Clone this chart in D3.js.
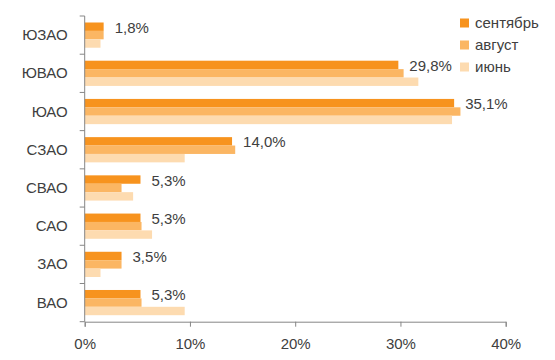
<!DOCTYPE html>
<html><head><meta charset="utf-8">
<script src="https://cdn.jsdelivr.net/npm/d3@7"></script>
<style>body{margin:0;background:#fff}svg{display:block}text{font-family:"Liberation Sans",Arial,sans-serif;fill:#404040}</style>
</head><body><svg id="c" width="555" height="360"></svg>
<script>
const categories = ["ЮЗАО","ЮВАО","ЮАО","СЗАО","СВАО","САО","ЗАО","ВАО"];
const seriesNames = ["сентябрь","август","июнь"];
const september = [1.8, 29.8, 35.1, 14.0, 5.3, 5.3, 3.5, 5.3];
const august = [1.8, 30.3, 35.7, 14.3, 3.5, 5.4, 3.5, 5.4];
const june = [1.5, 31.7, 34.9, 9.5, 4.6, 6.4, 1.5, 9.5];
const labels = ["1,8%","29,8%","35,1%","14,0%","5,3%","5,3%","3,5%","5,3%"];
const xTicks = [0,10,20,30,40];
const colors = ["#F7931E","#FBB663","#FDDBB0"];
const series = [september, august, june];

const svg = d3.select("#c");
const pL = 84.7, pR = 505.7, pT = 16, pB = 321.7;
const x = d3.scaleLinear().domain([0,40]).range([pL,pR]);
const y = d3.scaleBand().domain(categories).range([pT,pB]).paddingInner(0.34).paddingOuter(0.17);
const ySub = d3.scaleBand().domain(d3.range(3)).range([0,y.bandwidth()]);

// bars
series.forEach((vals,si)=>{
  svg.append("g").selectAll("rect").data(vals).join("rect")
    .attr("x", x(0)).attr("y",(d,i)=>y(categories[i])+ySub(si))
    .attr("width",d=>x(d)-x(0)).attr("height",ySub.bandwidth())
    .attr("fill",colors[si]);
});

// data labels
svg.append("g").selectAll("text").data(september).join("text")
  .attr("x",d=>x(d)+11).attr("y",(d,i)=>y(categories[i])+ySub(0)+ySub.bandwidth()/2+2)
  .attr("dominant-baseline","middle").attr("font-size",15)
  .text((d,i)=>labels[i]);

// x axis
const xAxis = d3.axisBottom(x).tickValues(xTicks).tickFormat(d=>d+"%").tickSize(5).tickPadding(12);
const gx = svg.append("g").attr("transform",`translate(0,${pB})`).call(xAxis);
gx.select(".domain").attr("stroke","#868686");
gx.selectAll(".tick line").attr("stroke","#868686");
gx.selectAll(".tick text").attr("font-size",15).attr("fill","#404040").attr("font-family","Liberation Sans, Arial, sans-serif");

// y axis
const gy = svg.append("g").attr("transform",`translate(${pL},0)`);
gy.append("line").attr("x1",0).attr("x2",0).attr("y1",pT).attr("y2",pB).attr("stroke","#868686");
const bounds = categories.map(c=>y(c)-y.step()*y.paddingInner()/2).concat([pB]);
gy.selectAll("line.t").data(bounds).join("line").attr("class","t")
  .attr("x1",-5).attr("x2",0).attr("y1",d=>d).attr("y2",d=>d).attr("stroke","#868686");
gy.selectAll("text").data(categories).join("text")
  .attr("x",-17).attr("y",d=>y(d)+y.bandwidth()/2+1)
  .attr("text-anchor","end").attr("dominant-baseline","middle").attr("font-size",15)
  .text(d=>d);

// legend
const lg = svg.append("g").attr("transform","translate(460,0)");
seriesNames.forEach((n,i)=>{
  const cy = 23 + i*22;
  lg.append("rect").attr("x",0).attr("y",cy-4.5).attr("width",9).attr("height",9).attr("fill",colors[i]);
  lg.append("text").attr("x",15).attr("y",cy+1).attr("dominant-baseline","middle").attr("font-size",15).text(n);
});
</script></body></html>
